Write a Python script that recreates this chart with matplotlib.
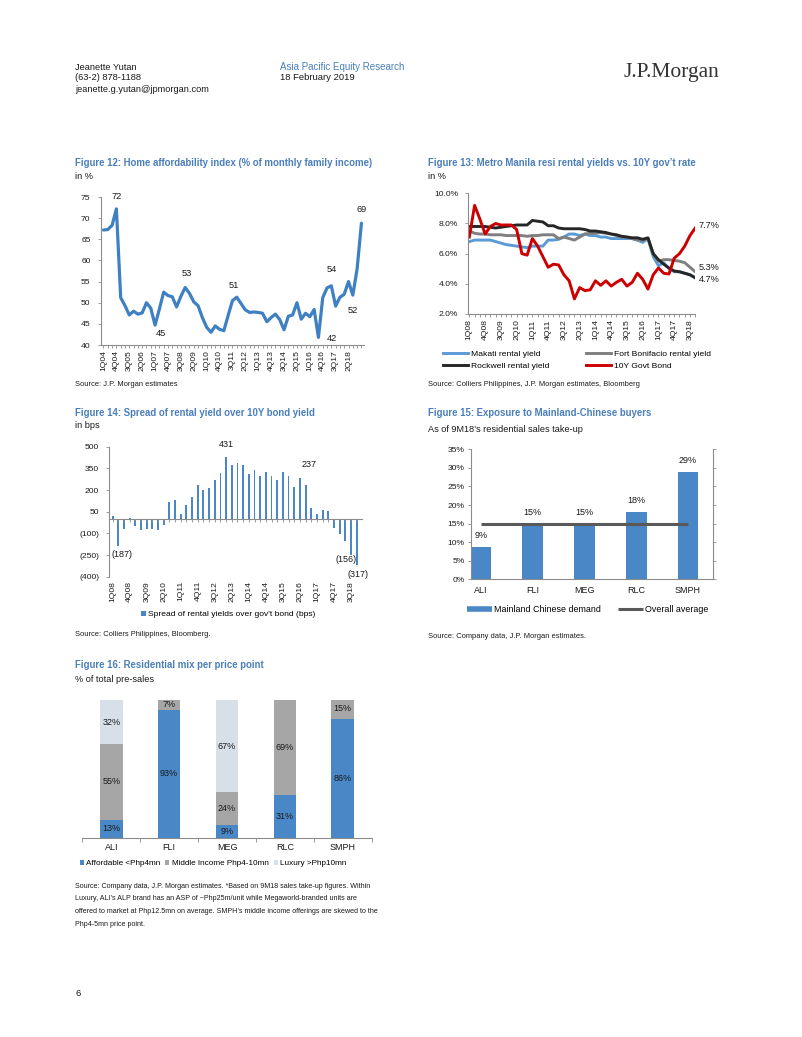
import numpy as np
import matplotlib.pyplot as plt
from matplotlib.ticker import FuncFormatter
from matplotlib.lines import Line2D

NARROW = ['Liberation Sans Narrow', 'Liberation Sans', 'DejaVu Sans']
plt.rcParams['font.family'] = NARROW

# ---------------- data ----------------
# Figure 12: home affordability index, quarterly 1Q04 ..
afford_values = [67.2, 67.3, 68.3, 72.2, 51.2, 49.3, 47.1, 48.0, 47.3, 47.6,
                 50.0, 48.7, 44.7, 48.5, 52.5, 51.7, 51.4, 49.0, 51.5, 53.6,
                 52.2, 50.2, 49.3, 46.5, 44.2, 43.0, 44.5, 43.7, 43.4, 47.0,
                 50.5, 51.3, 49.8, 48.3, 47.7, 47.8, 47.7, 47.5, 45.5, 46.5,
                 47.3, 46.0, 43.6, 46.8, 47.1, 50.0, 46.1, 47.5, 46.7, 48.4,
                 41.8, 51.2, 53.5, 54.0, 49.2, 51.3, 52.0, 55.0, 51.8, 58.0,
                 68.8]
afford_ticks = ["1Q04", "4Q04", "3Q05", "2Q06", "1Q07", "4Q07", "3Q08", "2Q09",
                "1Q10", "4Q10", "3Q11", "2Q12", "1Q13", "4Q13", "3Q14", "2Q15",
                "1Q16", "4Q16", "3Q17", "2Q18"]
afford_labels = ["72", "45", "53", "51", "54", "42", "52", "69"]
afford_label_idx = [3, 12, 19, 31, 53, 50, 58, 60]

# Figure 13: rental yields vs 10Y bond, quarterly 1Q08 .. 4Q18
makati = [6.8, 6.9, 6.9, 6.9, 6.9, 6.8, 6.7, 6.6, 6.55, 6.5, 6.45, 6.4, 6.5, 6.5,
          6.5, 6.9, 6.9, 6.95, 7.1, 7.3, 7.3, 7.2, 7.3, 7.2, 7.2, 7.1, 7.1, 7.0,
          7.0, 7.0, 7.0, 7.0, 6.9, 6.75, 7.0, 5.8, 5.2, 5.4, 5.0, 4.8, 4.8, 4.7,
          4.6, 4.4]
fort_bonifacio = [7.5, 7.35, 7.3, 7.3, 7.25, 7.25, 7.25, 7.2, 7.2, 7.2, 7.2, 7.15,
                  7.2, 7.2, 7.25, 7.25, 7.25, 7.0, 7.1, 7.0, 6.9, 7.1, 7.3, 7.35,
                  7.35, 7.4, 7.35, 7.3, 7.2, 7.1, 7.1, 7.0, 6.9, 6.9, 7.0, 6.0,
                  5.5, 5.6, 5.6, 5.55, 5.5, 5.4, 5.1, 4.8]
rockwell = [7.8, 7.8, 7.8, 7.8, 7.75, 7.7, 7.75, 7.8, 7.85, 7.9, 7.9, 7.9, 8.2,
            8.15, 8.1, 7.85, 7.85, 7.7, 7.65, 7.65, 7.65, 7.65, 7.6, 7.5, 7.5,
            7.45, 7.4, 7.3, 7.25, 7.15, 7.1, 7.05, 7.05, 6.95, 7.05, 6.0, 5.6,
            5.3, 5.05, 4.85, 4.8, 4.7, 4.6, 4.4]
govt_bond = [7.1, 9.2, 8.3, 7.3, 7.8, 8.0, 7.9, 7.9, 7.9, 7.6, 6.0, 5.9, 7.0, 6.5,
             5.8, 5.1, 5.3, 5.25, 4.6, 4.2, 3.0, 3.75, 3.55, 3.6, 4.2, 3.9, 4.2,
             3.85, 4.1, 4.3, 3.85, 4.1, 4.7, 4.3, 3.65, 4.6, 5.05, 4.7, 4.65, 5.7,
             6.0, 6.5, 7.2, 7.7]
yield_ticks = ["1Q08", "4Q08", "3Q09", "2Q10", "1Q11", "4Q11", "3Q12", "2Q13",
               "1Q14", "4Q14", "3Q15", "2Q16", "1Q17", "4Q17", "3Q18"]
yield_series = ["Makati rental yield", "Fort Bonifacio rental yield",
                "Rockwell rental yield", "10Y Govt Bond"]
yield_end_labels = ["7.7%", "5.3%", "4.7%"]

# Figure 14: spread (bps), quarterly 1Q08 .. 4Q18
spread = [23, -187, -69, 7, -51, -74, -69, -67, -74, -44, 115, 132, 37, 99, 155,
          238, 198, 215, 270, 318, 431, 374, 388, 376, 314, 341, 300, 328, 295,
          270, 325, 300, 222, 284, 237, 76, 37, 60, 58, -62, -101, -156, -247, -317]
spread_label_idx = [1, 20, 34, 41, 43]

# Figure 15: exposure to mainland Chinese buyers
devs = ["ALI", "FLI", "MEG", "RLC", "SMPH"]
mainland = [8.8, 15, 15, 18, 29]
overall_avg = [15, 15, 15, 15, 15]

# Figure 16: residential mix per price point
affordable = [13, 93, 9, 31, 86]
middle = [55, 7, 24, 69, 15]
luxury = [32, 0, 67, 0, 0]
mix_names = ["Affordable <Php4mn", "Middle Income Php4-10mn", "Luxury >Php10mn"]

# ---------------- styles ----------------
W, H = 802, 1037
TITLE_BLUE = "#4a7ebb"
LINE_BLUE = "#3f80c2"
BAR_BLUE = "#4a87c6"
GRAY_AX = "#8c8c8c"
TXT = "#1a1a1a"
TICK_FS = 6.1
TITLE_FS = 6.95
SUB_FS = 6.6
SRC_FS = 5.45
LEG_FS = 6.1
ARIAL = ['Liberation Sans', 'DejaVu Sans']

fig = plt.figure(figsize=(W / 100, H / 100), dpi=100)
fig.patch.set_facecolor("white")


def px_axes(x0, y0, x1, y1):
    return fig.add_axes([x0 / W, 1 - y1 / H, (x1 - x0) / W, (y1 - y0) / H])


def put(x, y, s, size=6.6, **kw):
    kw.setdefault("color", TXT)
    kw.setdefault("va", "center")
    fig.text(x / W, 1 - y / H, s, fontsize=size, **kw)


def style(ax, ypad=1.5):
    for s in ["top", "right"]:
        ax.spines[s].set_visible(False)
    for s in ["left", "bottom"]:
        ax.spines[s].set_color(GRAY_AX)
        ax.spines[s].set_linewidth(0.8)
    ax.tick_params(which="both", colors=GRAY_AX, labelcolor=TXT,
                   labelsize=TICK_FS, width=0.6)
    ax.tick_params(which="major", length=2.3, pad=1.5)
    ax.tick_params(which="minor", length=2)
    ax.tick_params(axis="y", pad=ypad)
    ax.set_facecolor("none")


def px2pt(v):
    return v * 0.72


# ---------------- header ----------------
put(75, 67, "Jeanette Yutan", 6.7, family=ARIAL)
put(75, 78, "(63-2) 878-1188", 6.7, family=ARIAL)
put(75, 89, "jeanette.g.yutan@jpmorgan.com", 6.7, family=ARIAL)
put(280, 67, "Asia Pacific Equity Research", 7, color=TITLE_BLUE, family=ARIAL)
put(280, 78, "18 February 2019", 6.8, family=ARIAL)
put(624, 72, "J.P.Morgan", 15.5, color="#333333",
    family=['Liberation Serif', 'DejaVu Serif'])

# ---------------- Figure 12 ----------------
put(75, 163, "Figure 12: Home affordability index (% of monthly family income)", TITLE_FS,
    color=TITLE_BLUE, weight="bold")
put(75, 176.5, "in %", SUB_FS)
ax1 = px_axes(100.7, 197, 364, 345)
style(ax1, ypad=5)
x1 = np.arange(len(afford_values))
ax1.plot(x1, afford_values, color=LINE_BLUE, lw=2.3, solid_joinstyle="round",
         solid_capstyle="round")
ax1.set_xlim(-0.65, 60.6)
ax1.set_ylim(40, 75)
ax1.set_yticks(range(40, 76, 5))
ax1.set_xticks(np.arange(0, len(afford_ticks) * 3, 3))
ax1.set_xticklabels(afford_ticks, rotation=90)
ax1.set_xticks(x1, minor=True)
offsets12 = [(0, 12.5), (6, -8), (1.5, 14), (-2.5, 12), (0, 16), (13, -1), (0, -15.5), (0, 14)]
for idx, lab, off in zip(afford_label_idx, afford_labels, offsets12):
    ax1.annotate(lab, (idx, afford_values[idx]), xytext=(px2pt(off[0]), px2pt(off[1])),
                 textcoords="offset points", ha="center", va="center",
                 fontsize=6.7, color=TXT)
put(75, 385, "Source: J.P. Morgan estimates", SRC_FS)

# ---------------- Figure 13 ----------------
put(428, 163, "Figure 13: Metro Manila resi rental yields vs. 10Y gov\u2019t rate", TITLE_FS,
    color=TITLE_BLUE, weight="bold")
put(428, 176.5, "in %", SUB_FS)
ax2 = px_axes(468.3, 193.3, 695.5, 314)
style(ax2, ypad=5)
x2 = np.arange(len(makati))
yield_colors = ["#5b9bd5", "#7f7f7f", "#262626", "#cc0000"]
for vals, col, name in zip([makati, fort_bonifacio, rockwell, govt_bond],
                           yield_colors, yield_series):
    ax2.plot(x2, vals, color=col, lw=2.1, label=name, solid_joinstyle="round")
ax2.set_xlim(-0.2, 43.05)
ax2.set_ylim(2, 10)
ax2.set_yticks([2, 4, 6, 8, 10])
ax2.yaxis.set_major_formatter(FuncFormatter(lambda v, p: f"{v:.1f}%"))
ax2.set_xticks(np.arange(0, len(yield_ticks) * 3, 3))
ax2.set_xticklabels(yield_ticks, rotation=90)
ax2.set_xticks(x2, minor=True)
h2, l2 = ax2.get_legend_handles_labels()
for col_i, x0 in enumerate([443, 586]):
    fig.legend(h2[col_i::2], l2[col_i::2], loc="upper left",
               bbox_to_anchor=(x0 / W, 1 - 350 / H), frameon=False,
               fontsize=LEG_FS, handlelength=3.0, handletextpad=0.25,
               labelspacing=0.5, borderpad=0, borderaxespad=0)
for lab, y in zip(yield_end_labels, [226, 268, 280]):
    put(699, y, lab, 6.6)
put(428, 385, "Source: Colliers Philippines, J.P. Morgan estimates, Bloomberg", SRC_FS)

# ---------------- Figure 14 ----------------
put(75, 413, "Figure 14: Spread of rental yield over 10Y bond yield", TITLE_FS,
    color=TITLE_BLUE, weight="bold")
put(75, 426, "in bps", SUB_FS)
ax3 = px_axes(109.3, 446.7, 361.7, 576.7)
style(ax3, ypad=5)
x3 = np.arange(len(spread))
ax3.bar(x3, spread, width=0.34, color=BAR_BLUE,
        label="Spread of rental yields over gov't bond (bps)")
ax3.set_xlim(-0.6, 43.9)
ax3.set_ylim(-400, 500)
ax3.set_yticks(range(-400, 501, 150))
ax3.yaxis.set_major_formatter(
    FuncFormatter(lambda v, p: f"({abs(v):.0f})" if v < 0 else f"{v:.0f}"))
ax3.spines["bottom"].set_position(("data", 0))
ax3.set_xticks(x3, minor=True)
ax3.set_xticks([])
ax3.tick_params(axis="x", which="minor", length=2)
sec = ax3.secondary_xaxis("bottom")
sec.spines["bottom"].set_visible(False)
sec.set_xticks(np.arange(0, len(yield_ticks) * 3, 3))
sec.set_xticklabels(yield_ticks, rotation=90)
sec.tick_params(length=0, labelsize=TICK_FS, labelcolor=TXT, pad=3)
offsets14 = [(4, -9), (0, 12), (4, 20), (1, -18), (1, -10)]
for idx, off in zip(spread_label_idx, offsets14):
    v = spread[idx]
    lab = f"({abs(v)})" if v < 0 else f"{v}"
    ax3.annotate(lab, (idx, v), xytext=(px2pt(off[0]), px2pt(off[1])),
                 textcoords="offset points", ha="center", va="center",
                 fontsize=6.5, color=TXT)
h3, l3 = ax3.get_legend_handles_labels()
fig.legend(h3, l3, loc="upper left", bbox_to_anchor=(141 / W, 1 - 610.5 / H),
           frameon=False, fontsize=LEG_FS, handlelength=0.55, handleheight=0.55,
           handletextpad=0.3, borderpad=0, borderaxespad=0)
put(75, 635, "Source: Colliers Philippines, Bloomberg.", SRC_FS)

# ---------------- Figure 15 ----------------
put(428, 413, "Figure 15: Exposure to Mainland-Chinese buyers", TITLE_FS,
    color=TITLE_BLUE, weight="bold")
put(428, 429, "As of 9M18\u2019s residential sales take-up", SUB_FS)
ax4 = px_axes(470.7, 449.3, 713.3, 579.3)
style(ax4, ypad=2)
ax4.spines["right"].set_visible(True)
ax4.spines["right"].set_color(GRAY_AX)
ax4.spines["right"].set_linewidth(0.8)
x4 = np.arange(len(devs))
ax4.bar(x4, mainland, width=0.4, color=BAR_BLUE, label="Mainland Chinese demand")
ax4.plot(x4, overall_avg, color="#595959", lw=2.2, label="Overall average",
         solid_capstyle="butt")
ax4.set_xlim(-0.2, 4.49)
ax4.set_ylim(0, 35)
ax4.set_yticks(range(0, 36, 5))
ax4.yaxis.set_major_formatter(FuncFormatter(lambda v, p: f"{v:.0f}%"))
ax4.tick_params(axis="y", right=True)
ax4.set_xticks(x4)
ax4.set_xticklabels(devs, fontsize=6.5)
ax4.tick_params(axis="x", length=0, pad=5)
for i, v in enumerate(mainland):
    ax4.annotate(f"{v:.0f}%", (i, v), xytext=(0, px2pt(11.5)),
                 textcoords="offset points", ha="center", va="center",
                 fontsize=6.5, color=TXT)
leg4 = [Line2D([0], [0], color=BAR_BLUE, lw=4, solid_capstyle="butt"),
        Line2D([0], [0], color="#595959", lw=2.2, solid_capstyle="butt")]
fig.legend(leg4, ["Mainland Chinese demand", "Overall average"], loc="upper left",
           ncol=2, bbox_to_anchor=(467 / W, 1 - 605 / H), frameon=False,
           fontsize=6.4, handlelength=2.8, handletextpad=0.25, columnspacing=1.9,
           borderpad=0, borderaxespad=0)
put(428, 637, "Source: Company data, J.P. Morgan estimates.", SRC_FS)

# ---------------- Figure 16 ----------------
put(75, 665, "Figure 16: Residential mix per price point", TITLE_FS,
    color=TITLE_BLUE, weight="bold")
put(75, 680, "% of total pre-sales", SUB_FS)
ax5 = px_axes(82.3, 700, 371.7, 837.7)
style(ax5)
ax5.spines["left"].set_visible(False)
x5 = np.arange(len(devs))
mix_colors = [BAR_BLUE, "#a6a6a6", "#d7dfe9"]
bottom = np.zeros(len(devs))
for vals, col, name in zip([affordable, middle, luxury], mix_colors, mix_names):
    ax5.bar(x5, vals, bottom=bottom, width=0.39, color=col, label=name)
    for i, v in enumerate(vals):
        if v > 0:
            ax5.text(i, bottom[i] + v / 2, f"{v}%", ha="center", va="center",
                     fontsize=6.5, color=TXT)
    bottom = bottom + np.array(vals)
ax5.set_xlim(-0.5, 4.5)
ax5.set_ylim(0, 100)
ax5.set_yticks([])
ax5.set_xticks(x5)
ax5.set_xticklabels(devs, fontsize=6.5)
ax5.set_xticks(np.arange(-0.5, 4.6, 1), minor=True)
ax5.tick_params(axis="x", which="major", length=0, pad=4)
ax5.tick_params(axis="x", which="minor", length=3)
h5, l5 = ax5.get_legend_handles_labels()
fig.legend(h5, l5, loc="upper left", ncol=3, bbox_to_anchor=(79.5 / W, 1 - 860 / H),
           frameon=False, fontsize=5.9, handlelength=0.5, handleheight=0.5,
           handletextpad=0.3, columnspacing=0.6, borderpad=0, borderaxespad=0)
src16 = ["Source: Company data, J.P. Morgan estimates. *Based on 9M18 sales take-up figures. Within",
         "Luxury, ALI\u2019s ALP brand has an ASP of ~Php25m/unit while Megaworld-branded units are",
         "offered to market at Php12.5mn on average. SMPH\u2019s middle income offerings are skewed to the",
         "Php4-5mn price point."]
for k, line in enumerate(src16):
    put(75, 886 + 12.7 * k, line, 5.1)

put(75, 994, "6", 6.8, family=ARIAL)

fig.savefig("out.png", dpi=100, facecolor="white")
